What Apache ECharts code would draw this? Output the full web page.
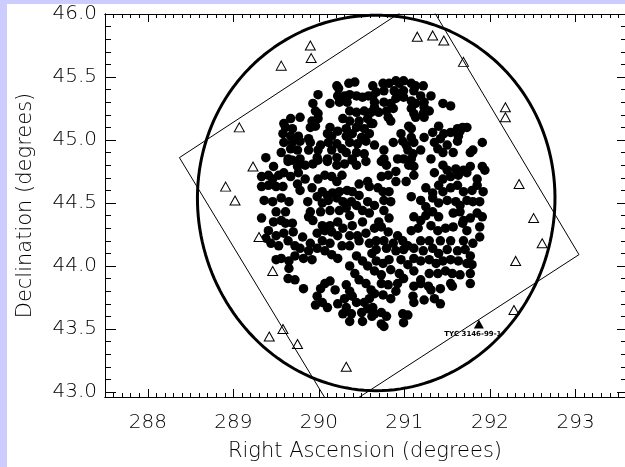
<!DOCTYPE html>
<html>
<head>
<meta charset="utf-8">
<script src="https://cdn.jsdelivr.net/npm/echarts@6/dist/echarts.min.js"></script>
<style>
  html, body { margin: 0; padding: 0; background: #ccccff; }
  #chart { position: absolute; left: 7px; top: 4px; width: 618px; height: 463px; background: #fff; }
</style>
</head>
<body>
<div id="chart"></div>
<script>
// axes
const raTicks = [288, 289, 290, 291, 292, 293]
const decTicks = [43.0, 43.5, 44.0, 44.5, 45.0, 45.5, 46.0]
const raRange = [287.5, 293.578]
const decRange = [42.96, 46.0]

// field of view and CCD footprint
const fieldCenter = [290.67, 44.5]
const fieldRadius = 1.49
const ccdCorners = [[288.37, 44.86], [291.24, 46.14], [293.04, 44.09], [290.18, 42.83], [288.37, 44.86]]

// open triangles: comparison stars
const compStars = [
  [289.90, 45.75], [289.91, 45.65], [289.56, 45.59], [289.07, 45.10], [289.23, 44.79],
  [288.91, 44.63], [289.02, 44.52], [289.30, 44.23], [289.46, 43.96], [289.42, 43.44],
  [289.58, 43.50], [289.75, 43.38], [290.32, 43.20], [291.15, 45.82], [291.33, 45.83],
  [291.46, 45.79], [291.69, 45.62], [292.18, 45.26], [292.18, 45.18], [292.34, 44.65],
  [292.51, 44.38], [292.61, 44.18], [292.30, 44.04], [292.28, 43.65]
]
const targetStar = [[291.87, 43.54]]
const targetName = 'TYC 3146-99-1'

// filled circles, north to south
const starsNorth = [
  [290.21,45.43],[290.23,45.41],[290.35,45.45],[290.42,45.46],[290.63,45.43],[289.99,45.36],[289.93,45.29],[290.13,45.29],
  [290.22,45.35],[290.30,45.35],[290.36,45.36],[290.44,45.35],[290.51,45.34],[290.58,45.35],[290.63,45.35],
  [290.75,45.45],[290.82,45.45],[290.90,45.47],[290.94,45.45],[290.99,45.47],[291.08,45.45],[291.13,45.43],[291.22,45.43],
  [290.67,45.38],[290.76,45.39],[290.88,45.39],[290.94,45.37],[290.99,45.39],[291.11,45.39],[291.19,45.35],[291.31,45.35],
  [291.45,45.29],[291.54,45.27],[290.65,45.30],[290.76,45.30],[290.84,45.29],[290.90,45.33],[290.99,45.34],[291.08,45.31],
  [291.13,45.29],[291.23,45.30],
  [290.24,45.30],[290.33,45.30],[289.96,45.23],[289.99,45.21],[290.36,45.23],[290.44,45.22],[290.53,45.23],[290.61,45.22],
  [289.67,45.17],[289.78,45.18],[289.59,45.13],[289.92,45.15],[289.99,45.17],[290.28,45.17],[290.36,45.15],[290.47,45.15],
  [290.57,45.17],[289.61,45.10],[289.69,45.09],[289.90,45.10],[289.96,45.11],[290.13,45.10],[290.22,45.07],[290.32,45.09],
  [290.44,45.10],[290.53,45.09],[290.61,45.13],
  [290.65,45.26],[290.70,45.22],[290.79,45.23],[290.87,45.25],[290.81,45.18],[290.84,45.15],[291.08,45.25],[291.11,45.21],
  [291.13,45.18],[291.22,45.21],[291.23,45.26],[291.29,45.23],[291.23,45.18],[290.63,45.13],[291.05,45.11],[291.08,45.09],
  [291.40,45.11],[291.33,45.06],[291.46,45.05],[291.62,45.09],[291.68,45.10],[291.73,45.10],[291.54,45.06]
]
const starsUpper = [
  [289.58,45.05],[289.67,45.03],[289.76,45.03],[289.88,45.01],[290.10,45.05],[290.15,45.03],[290.32,45.03],[290.39,45.05],
  [290.50,45.02],[290.59,45.05],[289.59,44.98],[289.69,44.98],[289.78,44.99],[289.90,44.98],[290.02,44.96],[290.11,44.98],
  [290.21,44.97],[290.36,44.98],[290.45,44.97],[290.55,44.99],[289.56,44.90],[289.67,44.93],[289.75,44.92],[289.88,44.92],
  [289.99,44.92],[290.15,44.92],[290.27,44.93],[290.32,44.90],[290.44,44.90],[290.53,44.89],[289.38,44.86],[289.64,44.85],
  [289.78,44.85],[289.98,44.86],[290.10,44.85],[290.21,44.86],[290.39,44.85],
  [290.65,44.96],[290.76,44.92],[290.87,44.98],[290.96,45.05],[290.98,44.99],[291.02,44.96],[291.08,45.02],[291.11,44.98],
  [291.04,44.92],[291.10,44.89],[291.19,44.92],[291.23,45.02],[291.35,44.98],[291.42,45.01],[291.39,44.93],[291.50,44.96],
  [291.45,44.90],[291.57,44.90],[291.62,44.99],[291.65,45.07],[291.63,45.03],[291.77,44.90],[291.80,44.92],[291.91,44.98],
  [290.76,44.85],[290.92,44.85],[291.08,44.85],[291.31,44.85]
]
const starsMiddle = [
  [289.47,44.79],[289.64,44.83],[289.69,44.84],[289.75,44.79],[289.84,44.80],[289.93,44.81],[289.99,44.84],[290.10,44.83],
  [290.21,44.80],[290.30,44.81],[290.39,44.84],[290.44,44.80],[290.55,44.83],[289.33,44.71],[289.41,44.72],[289.46,44.69],
  [289.53,44.72],[289.59,44.74],[289.67,44.71],[289.76,44.74],[289.84,44.69],[289.99,44.69],[290.07,44.72],[290.15,44.71],
  [290.21,44.67],[290.27,44.72],[290.47,44.65],[290.57,44.67],[289.33,44.63],[289.41,44.64],[289.50,44.63],[289.58,44.63],
  [289.75,44.65],[289.78,44.60],[289.92,44.62],[290.04,44.59],[290.10,44.56],[290.16,44.58],[290.24,44.59],[290.33,44.60],
  [290.39,44.59],[290.47,44.56],[290.59,44.63],[289.36,44.52],[289.46,44.51],[289.56,44.54],[289.65,44.51],[289.87,44.51],
  [289.98,44.55],[290.04,44.50],[290.11,44.52],[290.21,44.54],[290.28,44.51],[290.38,44.51],[290.44,44.48],[290.57,44.51],
  [290.73,44.83],[290.79,44.80],[290.99,44.85],[291.05,44.80],[291.11,44.79],[291.45,44.80],[291.50,44.76],[291.60,44.77],
  [291.69,44.76],[291.77,44.79],[291.91,44.79],[291.94,44.76],[290.73,44.71],[290.81,44.72],[290.90,44.75],[290.90,44.67],
  [291.02,44.67],[291.11,44.72],[291.35,44.74],[291.45,44.69],[291.54,44.71],[291.63,44.72],[291.73,44.74],[291.85,44.69],
  [290.69,44.62],[290.75,44.59],[290.82,44.59],[291.08,44.55],[291.25,44.62],[291.33,44.58],[291.40,44.64],[291.45,44.59],
  [291.54,44.62],[291.62,44.64],[291.69,44.59],[291.79,44.60],[291.85,44.64],[291.92,44.59],[290.65,44.48],[290.76,44.52],
  [290.84,44.51],[291.19,44.52],[291.25,44.47],[291.33,44.54],[291.40,44.50],[291.50,44.52],[291.60,44.51],[291.65,44.48],
  [291.73,44.52],[291.80,44.51],[291.88,44.51]
]
const starsLower = [
  [289.33,44.38],[289.50,44.43],[289.61,44.43],[289.90,44.43],[290.02,44.43],[290.13,44.44],[290.24,44.44],[290.32,44.46],
  [290.36,44.40],[290.51,44.44],[290.59,44.42],[289.47,44.35],[289.56,44.36],[289.61,44.34],[289.69,44.34],[289.88,44.39],
  [289.93,44.36],[290.04,44.32],[290.13,44.32],[290.22,44.35],[290.28,44.30],[290.39,44.32],[290.51,44.35],[289.41,44.28],
  [289.38,44.22],[289.50,44.24],[289.59,44.26],[289.70,44.27],[289.81,44.23],[289.98,44.26],[290.07,44.28],[290.15,44.27],
  [290.22,44.24],[290.36,44.24],[290.45,44.24],[290.55,44.26],[289.44,44.18],[289.53,44.16],[289.64,44.20],[289.72,44.16],
  [289.90,44.18],[290.04,44.20],[290.13,44.18],[290.27,44.16],[290.36,44.16],[290.47,44.20],[290.59,44.18],
  [290.76,44.44],[290.70,44.35],[290.82,44.38],[291.11,44.39],[291.19,44.36],[291.25,44.40],[291.33,44.43],[291.40,44.39],
  [291.57,44.42],[291.65,44.43],[291.69,44.36],[291.77,44.38],[291.85,44.42],[291.91,44.39],[290.65,44.30],[290.73,44.31],
  [290.81,44.27],[290.92,44.24],[291.08,44.28],[291.16,44.30],[291.31,44.32],[291.39,44.28],[291.48,44.30],[291.57,44.31],
  [291.68,44.34],[291.73,44.28],[291.88,44.31],[290.67,44.20],[290.76,44.20],[290.87,44.18],[290.98,44.20],[291.04,44.16],
  [291.19,44.20],[291.29,44.20],[291.42,44.20],[291.54,44.20],[291.69,44.20],[291.80,44.18],[291.88,44.23]
]
const starsSouth = [
  [289.78,44.14],[289.88,44.12],[289.98,44.14],[290.07,44.12],[290.15,44.09],[290.22,44.06],[289.92,44.05],[289.82,44.06],
  [289.72,44.08],[289.50,44.05],[289.56,44.06],[289.65,44.04],[289.65,43.98],[289.64,43.90],[289.72,43.89],[289.82,43.82],
  [290.02,43.82],[290.07,43.86],[290.13,43.88],[290.19,43.81],[289.98,43.76],[290.04,43.71],[289.96,43.69],[290.10,43.67],
  [290.22,43.70],[290.30,43.74],[290.36,43.80],[290.32,43.85],[290.36,44.00],[290.44,44.08],[290.51,44.04],[290.57,44.00],
  [290.62,44.10],[290.42,43.94],[290.47,43.89],[290.55,43.86],[290.61,43.81],[290.39,43.76],[290.44,43.71],[290.53,43.71],
  [290.59,43.74],[290.32,43.67],[290.28,43.62],[290.38,43.62],[290.36,43.56],[290.50,43.63],[290.57,43.66],[290.62,43.60],
  [290.51,43.56],
  [290.67,44.13],[290.79,44.14],[290.90,44.12],[290.99,44.13],[291.11,44.14],[291.22,44.12],[291.33,44.14],[291.40,44.10],
  [291.50,44.13],[291.62,44.12],[291.71,44.13],[291.77,44.08],[290.67,44.04],[290.75,44.02],[290.82,44.05],[290.96,44.05],
  [291.04,44.01],[291.11,44.06],[291.19,44.04],[291.29,44.05],[291.37,44.02],[291.45,44.04],[291.54,44.05],[291.63,44.04],
  [291.73,44.02],[291.79,44.01],[290.65,43.96],[290.73,43.93],[290.84,43.97],[290.94,43.94],[290.99,43.90],[291.11,43.96],
  [291.19,43.89],[291.29,43.94],[291.39,43.94],[291.48,43.96],[291.56,43.94],[291.65,43.93],[291.77,43.94],[290.73,43.86],
  [290.81,43.85],[290.92,43.86],[291.11,43.84],[291.19,43.86],[291.28,43.84],[291.31,43.81],[291.42,43.82],[291.54,43.86],
  [291.56,43.84],[291.77,43.86],[290.65,43.78],[290.75,43.77],[290.84,43.74],[290.90,43.80],[291.10,43.76],[291.11,43.71],
  [291.23,43.73],[291.35,43.74],[291.42,43.70],[290.63,43.67],[290.65,43.62],[290.73,43.63],[290.79,43.60],[290.98,43.62],
  [291.04,43.61],[290.99,43.55],[290.73,43.54],[290.76,43.52]
]

const clusterStars = [].concat(starsNorth, starsUpper, starsMiddle, starsLower, starsSouth)

// outline of the field circle, drawn in sky coordinates
const circlePts = []
for (let a = 0; a <= 360; a += 2) {
  const t = a * Math.PI / 180
  const dec = fieldCenter[1] + fieldRadius * Math.sin(t)
  circlePts.push([fieldCenter[0] + fieldRadius * Math.cos(t) / Math.cos(dec * Math.PI / 180), dec])
}

function minorTicks(lo, hi) {
  const out = []
  for (let i = Math.ceil(lo * 10 - 1e-6); i <= Math.floor(hi * 10 + 1e-6); i++) out.push(i / 10)
  return out
}
const raMinor = minorTicks(raRange[0], raRange[1])
const decMinor = minorTicks(43.0, decRange[1])

const font = 'DejaVu Sans'
const axisText = { color: '#000', fontFamily: font, fontSize: 20, fontWeight: 200 }
const titleText = { color: '#000', fontFamily: font, fontSize: 21, fontWeight: 200 }

function raAxis(position, ticks, len, labels) {
  return {
    type: 'value', position, min: raRange[0], max: raRange[1],
    axisLine: { show: true, onZero: false, lineStyle: { color: '#000', width: 1 } },
    axisTick: { show: true, inside: true, length: len, customValues: ticks, lineStyle: { color: '#000', width: 1 } },
    axisLabel: labels ? Object.assign({ show: true, margin: 16, customValues: ticks, formatter: v => String(v) }, axisText) : { show: false },
    splitLine: { show: false },
    name: labels ? 'Right Ascension (degrees)' : '',
    nameLocation: 'middle', nameGap: 44,
    nameTextStyle: Object.assign({}, titleText),
  }
}
function decAxis(position, ticks, len, labels) {
  return {
    type: 'value', position, min: decRange[0], max: decRange[1],
    axisLine: { show: true, onZero: false, lineStyle: { color: '#000', width: 1 } },
    axisTick: { show: true, inside: true, length: len, customValues: ticks, lineStyle: { color: '#000', width: 1 } },
    axisLabel: labels ? Object.assign({ show: true, margin: 8, customValues: ticks, formatter: v => v.toFixed(1) }, axisText) : { show: false },
    splitLine: { show: false },
    name: labels ? 'Declination (degrees)' : '',
    nameLocation: 'middle', nameGap: 69,
    nameTextStyle: Object.assign({}, titleText),
  }
}

const chart = echarts.init(document.getElementById('chart'), null, { renderer: 'canvas' })
chart.setOption({
  animation: false,
  backgroundColor: '#fff',
  grid: { left: 93, top: 9, right: -2, height: 384 },
  xAxis: [
    raAxis('bottom', raTicks, 8, true),
    raAxis('bottom', raMinor, 4, false),
    raAxis('top', raTicks, 8, false),
    raAxis('top', raMinor, 4, false),
  ],
  yAxis: [
    decAxis('left', decTicks, 11, true),
    decAxis('left', decMinor, 6, false),
    decAxis('right', decTicks, 8, false),
    decAxis('right', decMinor, 4, false),
  ],
  series: [
    {
      type: 'line', data: circlePts, showSymbol: false, silent: true,
      lineStyle: { color: '#000', width: 3 },
    },
    {
      type: 'line', data: ccdCorners, showSymbol: false, silent: true,
      lineStyle: { color: '#000', width: 1 },
    },
    {
      type: 'scatter', data: clusterStars, symbol: 'circle', symbolSize: 9.5,
      itemStyle: { color: '#000', opacity: 1 },
    },
    {
      type: 'scatter', data: compStars, symbol: 'triangle', symbolSize: [10, 9],
      itemStyle: { color: '#fff', borderColor: '#000', borderWidth: 1, opacity: 1 },
    },
    {
      type: 'scatter', data: targetStar, symbol: 'triangle', symbolSize: [10, 9],
      itemStyle: { color: '#000', opacity: 1 },
      label: {
        show: true, position: 'bottom', distance: 2, offset: [-6, 0],
        formatter: targetName, color: '#000', fontFamily: font, fontSize: 7, fontWeight: 'bold',
      },
    },
  ],
})
</script>
</body>
</html>
